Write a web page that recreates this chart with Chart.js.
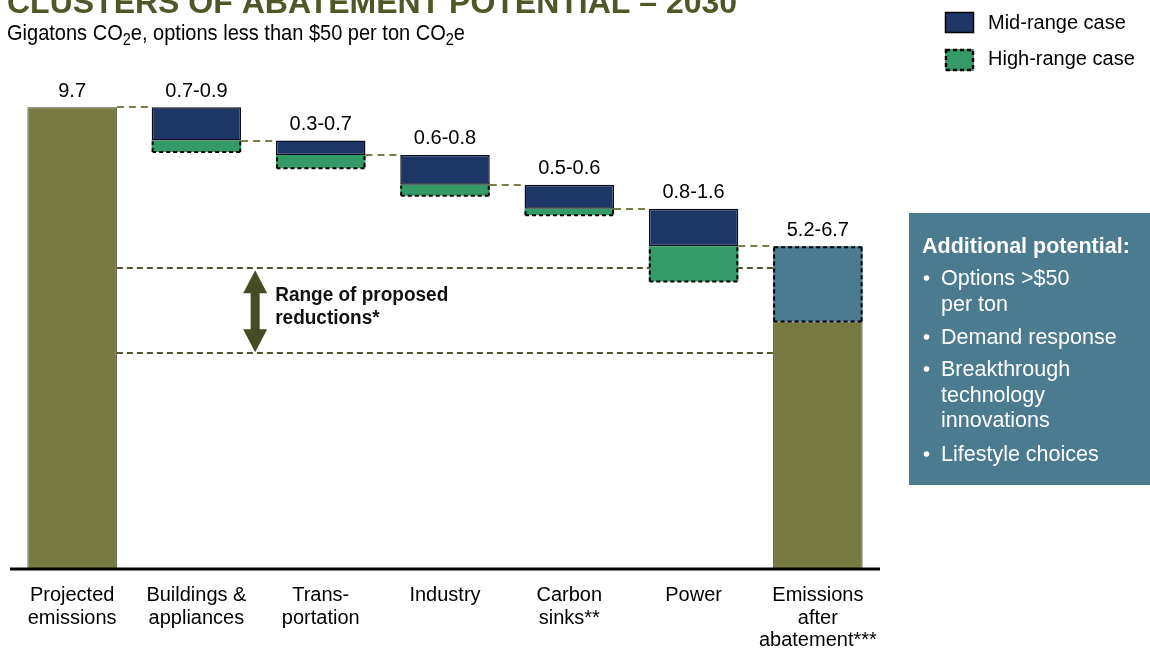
<!DOCTYPE html>
<html>
<head>
<meta charset="utf-8">
<script src="https://cdn.jsdelivr.net/npm/chart.js@4.4.0/dist/chart.umd.min.js"></script>
<style>
html,body{margin:0;padding:0;background:#fff;}
#wrap{position:relative;width:1150px;height:652px;overflow:hidden;}
</style>
</head>
<body>
<div id="wrap"><canvas id="c" width="1150" height="652"></canvas></div>
<script>
// ---------- DATA ----------
const categories = [["Projected","emissions"],["Buildings &","appliances"],["Trans-","portation"],["Industry"],["Carbon","sinks**"],["Power"],["Emissions","after","abatement***"]];
const projectedEmissions = 9.7;
const midRangeReduction = [0.7, 0.3, 0.63, 0.5, 0.79];
const highRangeExtra = [0.24, 0.28, 0.23, 0.14, 0.74];
const emissionsAfterLow = 5.2;
const rangeLabels = ["9.7","0.7-0.9","0.3-0.7","0.6-0.8","0.5-0.6","0.8-1.6","5.2-6.7"];
const proposedReductions = [4.53, 6.32];
const seriesNames = ["Mid-range case","High-range case"];
const titleText = "CLUSTERS OF ABATEMENT POTENTIAL \u2013 2030";
const rangeNote = ["Range of proposed","reductions*"];
const potentialHeading = "Additional potential:";
const potentialItems = [["Options >$50","per ton"],["Demand response"],["Breakthrough","technology","innovations"],["Lifestyle choices"]];

// ---------- BUILD ----------
const FONT = '"Liberation Sans", Arial, Helvetica, sans-serif';
const n = categories.length;
const totalData = Array(n).fill(null);
const midData = Array(n).fill(null);
const highData = Array(n).fill(null);
const extraData = Array(n).fill(null);
totalData[0] = [0, projectedEmissions];
let level = projectedEmissions;
const levels = [level];
midRangeReduction.forEach((m, i) => {
  const top = level, bot = level - m;
  midData[i + 1] = [bot, top];
  highData[i + 1] = [bot - highRangeExtra[i], bot];
  level = bot;
  levels.push(level);
});
totalData[n - 1] = [0, emissionsAfterLow];
extraData[n - 1] = [emissionsAfterLow, level];

const C = {
  olive: '#767a40', navy: '#1e3665', green: '#349a68', teal: '#4a7b90',
  conn: '#7b7e46', range: '#50542f', arrow: '#464b26', title: '#4e5727'
};

function dashedRect(ctx, l, t, r, b, sides) {
  ctx.beginPath();
  if (sides.includes('t')) { ctx.moveTo(l, t); ctx.lineTo(r, t); }
  if (sides.includes('r')) { ctx.moveTo(r, t); ctx.lineTo(r, b); }
  if (sides.includes('b')) { ctx.moveTo(r, b); ctx.lineTo(l, b); }
  if (sides.includes('l')) { ctx.moveTo(l, b); ctx.lineTo(l, t); }
  ctx.stroke();
}

function squeezedText(ctx, t, x, y, sx) {
  ctx.save();
  ctx.translate(x, y);
  ctx.scale(sx, 1);
  ctx.fillText(t, 0, 0);
  const w = ctx.measureText(t).width * sx;
  ctx.restore();
  return w;
}

const decor = {
  id: 'decor',
  beforeDatasetsDraw(chart) {
    const ctx = chart.ctx, xs = chart.scales.x, ys = chart.scales.y;
    const half = chart.getDatasetMeta(0).data[0].width / 2;
    ctx.save();
    // connectors
    ctx.setLineDash([7, 5]); ctx.lineWidth = 2; ctx.strokeStyle = C.conn;
    for (let i = 0; i < n - 1; i++) {
      const yy = Math.round(ys.getPixelForValue(levels[i]));
      ctx.beginPath();
      ctx.moveTo(xs.getPixelForValue(i) + half, yy);
      ctx.lineTo(xs.getPixelForValue(i + 1) - half, yy);
      ctx.stroke();
    }
    // range lines
    ctx.setLineDash([6, 4]); ctx.strokeStyle = C.range;
    proposedReductions.forEach(v => {
      const yy = Math.round(ys.getPixelForValue(v));
      ctx.beginPath();
      ctx.moveTo(xs.getPixelForValue(0) + half, yy);
      ctx.lineTo(xs.getPixelForValue(n - 1) - half, yy);
      ctx.stroke();
    });
    ctx.setLineDash([]);
    // double arrow
    const ax = xs.getPixelForValue(1) + half + 14;
    const yTop = ys.getPixelForValue(proposedReductions[1]) + 2;
    const yBot = ys.getPixelForValue(proposedReductions[0]) - 1;
    const hl = 23, hw = 12, sw = 4.5;
    ctx.fillStyle = C.arrow;
    ctx.beginPath();
    ctx.moveTo(ax, yTop);
    ctx.lineTo(ax + hw, yTop + hl);
    ctx.lineTo(ax + sw, yTop + hl);
    ctx.lineTo(ax + sw, yBot - hl);
    ctx.lineTo(ax + hw, yBot - hl);
    ctx.lineTo(ax, yBot);
    ctx.lineTo(ax - hw, yBot - hl);
    ctx.lineTo(ax - sw, yBot - hl);
    ctx.lineTo(ax - sw, yTop + hl);
    ctx.lineTo(ax - hw, yTop + hl);
    ctx.closePath();
    ctx.fill();
    // note text
    ctx.fillStyle = '#111';
    ctx.font = 'bold 20px ' + FONT;
    ctx.textAlign = 'left'; ctx.textBaseline = 'alphabetic';
    rangeNote.forEach((t, i) => squeezedText(ctx, t, ax + 20, 301 + i * 23, 0.95));
    ctx.restore();
  },
  afterDatasetsDraw(chart) {
    const ctx = chart.ctx, ca = chart.chartArea;
    ctx.save();
    ctx.setLineDash([4, 3]); ctx.lineWidth = 2; ctx.strokeStyle = '#000';
    [[2, 'rbl'], [3, 'trbl']].forEach(([di, sides]) => {
      chart.getDatasetMeta(di).data.forEach((el, i) => {
        const raw = chart.data.datasets[di].data[i];
        if (!raw) return;
        const p = el.getProps(['x', 'y', 'base', 'width'], true);
        const l = p.x - p.width / 2 + 1, r = p.x + p.width / 2 - 1;
        const t = Math.min(p.y, p.base) + 1, b = Math.max(p.y, p.base) - 0;
        dashedRect(ctx, l, t, r, b, sides);
      });
    });
    ctx.setLineDash([]);
    // axis line
    ctx.fillStyle = '#000';
    ctx.fillRect(ca.left, ca.bottom - 1.5, ca.right - ca.left, 3);
    ctx.restore();
  },
  afterDraw(chart) {
    const ctx = chart.ctx, xs = chart.scales.x, ys = chart.scales.y;
    ctx.save();
    ctx.textBaseline = 'alphabetic';
    // title
    ctx.fillStyle = C.title; ctx.textAlign = 'left';
    ctx.font = 'bold 32px ' + FONT;
    ctx.fillText(titleText, 7, 13);
    // subtitle with subscripts
    ctx.fillStyle = '#000';
    const parts = [["Gigatons CO", 0], ["2", 1], ["e, options less than $50 per ton CO", 0], ["2", 1], ["e", 0]];
    let px = 7;
    parts.forEach(([t, sub]) => {
      ctx.font = (sub ? '16px ' : '22px ') + FONT;
      px += squeezedText(ctx, t, px, sub ? 45 : 39.5, 0.91);
    });
    // legend
    const ds = chart.data.datasets;
    ctx.font = '20px ' + FONT;
    ctx.fillStyle = ds[1].backgroundColor; ctx.fillRect(945, 12, 29, 21);
    ctx.strokeStyle = '#000'; ctx.lineWidth = 1.5; ctx.strokeRect(945.5, 12.5, 28, 20);
    ctx.fillStyle = ds[2].backgroundColor; ctx.fillRect(945, 49, 29, 22);
    ctx.setLineDash([4, 3]); ctx.lineWidth = 2.5; ctx.strokeRect(946, 50, 27, 20); ctx.setLineDash([]);
    ctx.fillStyle = '#000';
    ctx.fillText(ds[1].label, 988, 28.5);
    ctx.fillText(ds[2].label, 988, 65);
    // value labels
    ctx.textAlign = 'center'; ctx.font = '20px ' + FONT;
    for (let i = 0; i < n; i++) {
      let top;
      if (i === 0) top = ys.getPixelForValue(totalData[0][1]);
      else if (i === n - 1) top = ys.getPixelForValue(extraData[n - 1][1]);
      else top = ys.getPixelForValue(midData[i][1]);
      ctx.fillText(rangeLabels[i], xs.getPixelForValue(i), top - 10.5);
    }
    // category labels
    categories.forEach((lines, i) => {
      lines.forEach((t, j) => ctx.fillText(t, xs.getPixelForValue(i), 601 + j * 22.5));
    });
    // additional potential box
    ctx.fillStyle = C.teal;
    ctx.fillRect(909, 213, 241, 272);
    ctx.fillStyle = '#fff'; ctx.textAlign = 'left';
    ctx.font = 'bold 21.5px ' + FONT;
    ctx.fillText(potentialHeading, 922, 253);
    ctx.font = '21.5px ' + FONT;
    const starts = [285, 344, 376, 461];
    potentialItems.forEach((lines, k) => {
      const b0 = starts[k];
      ctx.beginPath(); ctx.arc(926.5, b0 - 7, 2.8, 0, Math.PI * 2); ctx.fill();
      lines.forEach((t, j) => ctx.fillText(t, 941, b0 + j * 25.5));
    });
    ctx.restore();
  }
};

new Chart(document.getElementById('c'), {
  type: 'bar',
  data: {
    labels: categories,
    datasets: [
      { label: 'Emissions', data: totalData, backgroundColor: C.olive, borderColor: '#3a3b24', borderWidth: 1, borderSkipped: false, grouped: false, order: 1 },
      { label: seriesNames[0], data: midData, backgroundColor: C.navy, borderColor: '#0b0f1a', borderWidth: 1.5, borderSkipped: false, grouped: false, order: 1 },
      { label: seriesNames[1], data: highData, backgroundColor: C.green, borderWidth: 0, grouped: false, order: 1 },
      { label: 'Additional potential', data: extraData, backgroundColor: C.teal, borderWidth: 0, grouped: false, order: 1 }
    ]
  },
  options: {
    responsive: false,
    devicePixelRatio: 1,
    animation: false,
    events: [],
    layout: { padding: { left: 10, right: 270, top: 93, bottom: 83 } },
    datasets: { bar: { categoryPercentage: 1, barPercentage: 0.72 } },
    scales: {
      x: { display: false },
      y: { display: false, min: 0, max: 10 }
    },
    plugins: { legend: { display: false }, tooltip: { enabled: false }, title: { display: false } }
  },
  plugins: [decor]
});
</script>
</body>
</html>
